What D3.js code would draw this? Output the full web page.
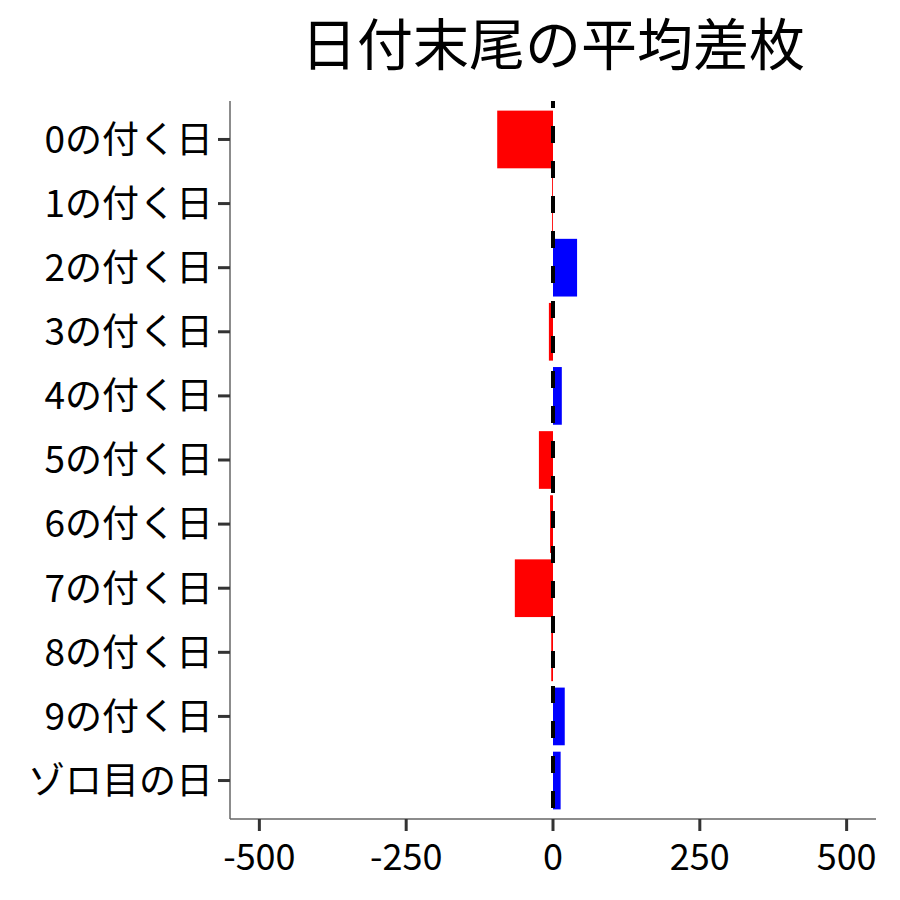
<!DOCTYPE html>
<html><head><meta charset="utf-8">
<script src="https://cdn.jsdelivr.net/npm/d3@7"></script>
<style>body{margin:0;background:#fff;} svg{display:block;}</style>
</head><body>
<svg id="c" width="900" height="900"></svg>
<script>
const categories = ["0の付く日","1の付く日","2の付く日","3の付く日","4の付く日","5の付く日","6の付く日","7の付く日","8の付く日","9の付く日","ゾロ目の日"];
const values = [-95, -1.5, 41, -7, 15, -24, -5, -65, -3, 20, 13];
const xTicks = [-500, -250, 0, 250, 500];
const title = "日付末尾の平均差枚";

const font = "'Noto Sans CJK JP', 'Noto Sans', sans-serif";
const svg = d3.select("#c");
const L = 230, R = 876, T = 101, B = 819;

const x = d3.scaleLinear().domain([-550, 550]).range([L, R]);
const step = (B - T) / (categories.length + 0.2);
const y = d3.scalePoint().domain(categories).range([T + step * 0.6, B - step * 0.6]);
const bh = step * 0.9;

svg.append("g").selectAll("rect").data(categories).join("rect")
  .attr("x", (d,i) => x(Math.min(0, values[i])))
  .attr("width", (d,i) => Math.abs(x(values[i]) - x(0)))
  .attr("y", d => y(d) - bh/2)
  .attr("height", bh)
  .attr("fill", (d,i) => values[i] < 0 ? "#ff0000" : "#0000ff");

svg.append("line").attr("x1", x(0)).attr("x2", x(0)).attr("y1", T).attr("y2", B)
  .attr("stroke", "#000").attr("stroke-width", 4).attr("stroke-dasharray", "17,18").attr("stroke-dashoffset", 10);

// axes lines
svg.append("line").attr("x1", L).attr("x2", L).attr("y1", T).attr("y2", B).attr("stroke", "#666").attr("stroke-width", 1.5);
svg.append("line").attr("x1", L).attr("x2", R).attr("y1", B).attr("y2", B).attr("stroke", "#666").attr("stroke-width", 1.5);

// y ticks
const yg = svg.append("g");
categories.forEach(c => {
  yg.append("line").attr("x1", L - 12).attr("x2", L).attr("y1", y(c)).attr("y2", y(c)).attr("stroke", "#333").attr("stroke-width", 3);
  yg.append("text").attr("x", L - 17).attr("y", y(c)).attr("dy", "0.36em").attr("text-anchor", "end")
    .attr("font-family", font).attr("font-size", 37).attr("fill", "#000").text(c);
});
// x ticks
const xg = svg.append("g");
xTicks.forEach(t => {
  xg.append("line").attr("x1", x(t)).attr("x2", x(t)).attr("y1", B).attr("y2", B + 12).attr("stroke", "#333").attr("stroke-width", 3);
  xg.append("text").attr("x", x(t)).attr("y", B + 51).attr("text-anchor", "middle")
    .attr("font-family", font).attr("font-size", 36).attr("fill", "#000").text(String(t));
});

svg.append("text").attr("x", (L + R) / 2).attr("y", 65).attr("text-anchor", "middle")
  .attr("font-family", font).attr("font-size", 56).attr("fill", "#000").text(title);
</script>
</body></html>
